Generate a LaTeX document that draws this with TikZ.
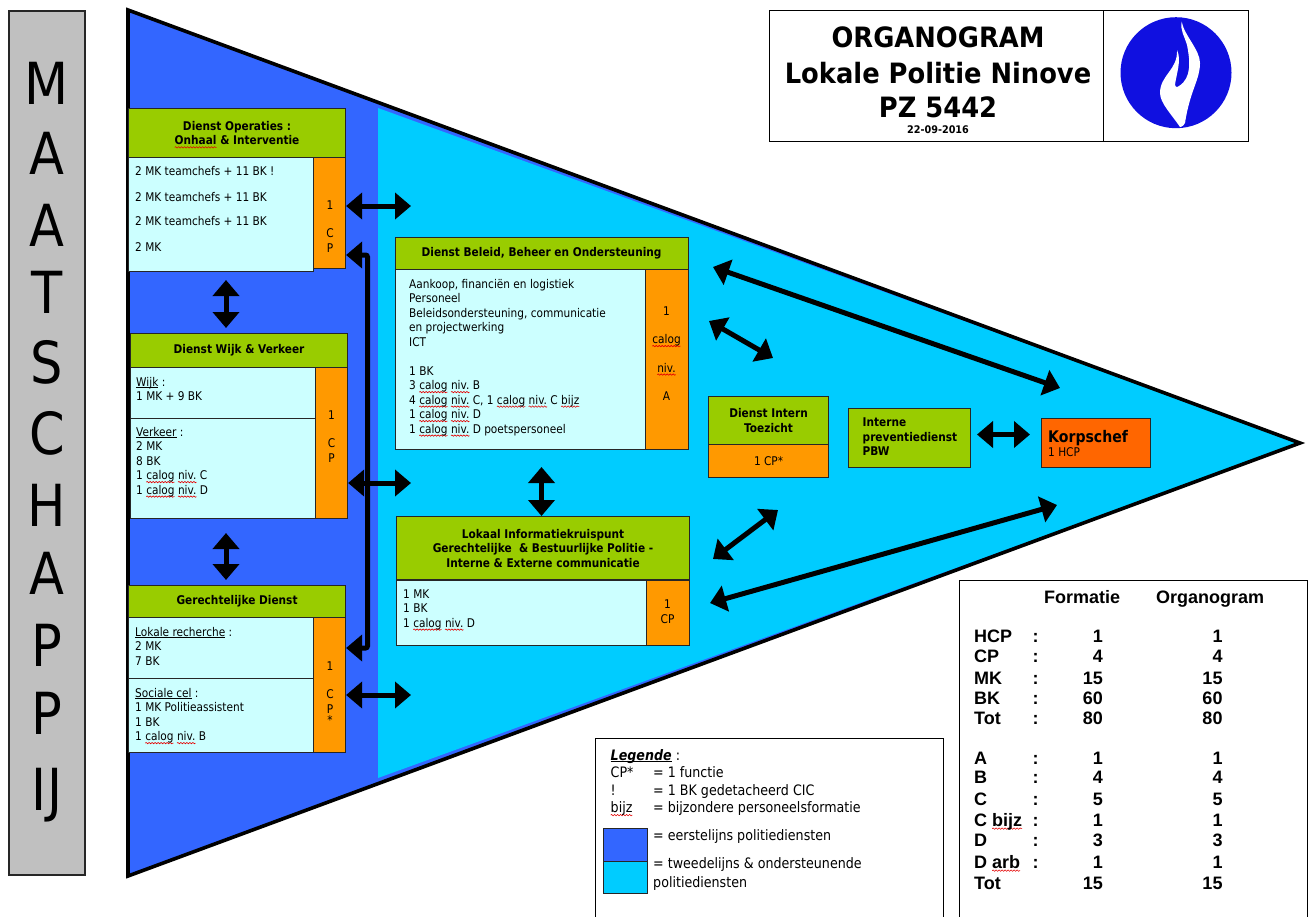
\documentclass[tikz,border=0pt]{standalone}
\usepackage{fontspec}
\setmainfont[FakeStretch=0.88]{DejaVu Sans}
\newfontfamily\ttlfont[FakeStretch=0.92]{DejaVu Sans}
\newfontfamily\arifont{Liberation Sans}
\usetikzlibrary{arrows.meta,decorations.pathmorphing}
\definecolor{dblue}{HTML}{3366FF}
\definecolor{lblue}{HTML}{00CCFF}
\definecolor{hgreen}{HTML}{99CC00}
\definecolor{bcyan}{HTML}{CCFFFF}
\definecolor{oran}{HTML}{FF9900}
\definecolor{korps}{HTML}{FF6600}
\definecolor{grijs}{HTML}{C0C0C0}
\definecolor{logob}{HTML}{1010E0}
\newsavebox\sqbox
\newcommand\sq[1]{\sbox\sqbox{#1}\leavevmode\rlap{\tikz[overlay,baseline=0pt]\draw[red!90!black,line width=.6pt,decorate,decoration={snake,segment length=3pt,amplitude=.7pt}] (0pt,-2.6pt)--(\wd\sqbox,-2.6pt);}\usebox\sqbox}
\newcommand\ul[1]{\underline{\smash{#1}}}
\newcommand\bft{\fontsize{12}{14.5}\selectfont}
\newcommand\hft{\fontsize{12}{14.5}\selectfont\bfseries}
\tikzset{
 bx/.style={draw=black!85,line width=1.1pt,anchor=north west,inner sep=0pt,align=center,text=black},
 hdr/.style={bx,fill=hgreen,font=\hft},
 bodybox/.style={bx,fill=bcyan},
 orbox/.style={bx,fill=oran,font=\bft},
 txt/.style={anchor=base west,inner sep=0pt,align=left,font=\bft},
 ctxt/.style={anchor=base,inner sep=0pt,align=center,font=\bft},
 dbl/.style={line width=5pt,{Triangle[length=16pt,width=26pt]}-{Triangle[length=16pt,width=26pt]}},
 letter/.style={anchor=center,inner sep=0pt,font=\fontsize{58}{60}\selectfont},
 tcell/.style={inner sep=0pt,font=\arifont\bfseries\fontsize{18}{20}\selectfont},
 legt/.style={anchor=base west,inner sep=0pt,font=\fontsize{14.4}{16}\selectfont}
}
\begin{document}
\begin{tikzpicture}[x=1pt,y=-1pt]
\useasboundingbox (0,0) rectangle (1308,916);
% maatschappij
\node[bx,fill=grijs,line width=1.6pt,minimum width=76pt,minimum height=864pt] (maat) at (8,10) {};
\foreach \i/\l/\y in {1/M/83,2/A/153,3/A/225,4/T/292,5/S/362,6/C/433,7/H/505,8/A/573,9/P/645,10/P/713,11/IJ/795}
  \node[letter] (m\i) at (47,\y) {\l};
% triangle
\coordinate (tA) at (128,10); \coordinate (tB) at (128,876); \coordinate (tC) at (1300,443);
\fill[dblue] (tA)--(tC)--(tB)--cycle;
\fill[lblue] (378,108)--(tC)--(378,778)--cycle;
\draw[line width=3.6pt,line join=miter] (tA)--(tC)--(tB)--cycle;
% title
\node[bx,draw=black,minimum width=334pt,minimum height=131pt,line width=1pt] (ttl) at (769,10) {};
\node[bx,draw=black,minimum width=145pt,minimum height=131pt,line width=1pt] (ttlb) at (1103,10) {};
\node[anchor=base,inner sep=0pt,font=\ttlfont\bfseries\fontsize{28}{30}\selectfont] (t1) at (938,47) {ORGANOGRAM};
\node[anchor=base,inner sep=0pt,font=\ttlfont\bfseries\fontsize{28}{30}\selectfont] (t2) at (938,83) {Lokale Politie Ninove};
\node[anchor=base,inner sep=0pt,font=\ttlfont\bfseries\fontsize{28}{30}\selectfont] (t3) at (938,117) {PZ 5442};
\node[anchor=base,inner sep=0pt,font=\ttlfont\bfseries\fontsize{10.5}{12}\selectfont] (t4) at (938,133) {22-09-2016};
\fill[logob] (1176,72.7) circle (55.5);
\fill[white] (1181.7,21.7) .. controls (1184,35) and (1200,50) .. (1200,63)
  .. controls (1200,80) and (1190,90) .. (1185,123) .. controls (1183,127) and (1180,127) .. (1180,127)
  .. controls (1172,115) and (1160,103) .. (1160,93) .. controls (1160,75) and (1178,70) .. (1177,50)
  .. controls (1182,60) and (1176,75) .. (1175,85) .. controls (1176,88) and (1178,87) .. (1179,86)
  .. controls (1192,78) and (1190,60) .. (1187,45) .. controls (1184,35) and (1180,30) .. (1181.7,21.7) -- cycle;
% Operaties
\node[hdr,minimum width=217pt,minimum height=49pt] (oph) at (128,108) {Dienst Operaties :\\\sq{Onhaal} \& Interventie};
\node[bodybox,minimum width=185pt,minimum height=114pt] (opb) at (128,157) {};
\node[orbox,minimum width=32pt,minimum height=111pt] (opc) at (313,157) {};
\foreach \i/\y/\s in {1/175/2 MK teamchefs + 11 BK !,2/201/2 MK teamchefs + 11 BK,3/225.5/2 MK teamchefs + 11 BK,4/251.5/2 MK}
  \node[txt] (opt\i) at (135,\y) {\s};
\node[ctxt] (opn) at (330,252) {1\\[13.5pt]C\\P};
% Wijk
\node[hdr,minimum width=217pt,minimum height=34pt] (wih) at (130,333) {Dienst Wijk \& Verkeer};
\node[bodybox,minimum width=185pt,minimum height=51pt] (wib) at (130,367) {};
\node[bodybox,minimum width=185pt,minimum height=100pt] (vkb) at (130,418) {};
\node[orbox,minimum width=32pt,minimum height=151pt] (wic) at (315,367) {};
\node[txt] (wit) at (136,400.5) {\ul{Wijk} :\\1 MK + 9 BK};
\node[txt] (vkt) at (136,494) {\ul{Verkeer} :\\2 MK\\8 BK\\1 \sq{calog} \sq{niv.} C\\1 \sq{calog} \sq{niv.} D};
\node[ctxt] (win) at (331.5,462) {1\\[13.5pt]C\\P};
% Gerechtelijke
\node[hdr,minimum width=217pt,minimum height=32pt] (geh) at (128,585) {Gerechtelijke Dienst};
\node[bodybox,minimum width=185pt,minimum height=61pt] (geb) at (128,617) {};
\node[bodybox,minimum width=185pt,minimum height=74pt] (soc) at (128,678) {};
\node[orbox,minimum width=32pt,minimum height=135pt] (gec) at (313,617) {};
\node[txt] (get) at (135,665) {\ul{Lokale recherche} :\\2 MK\\7 BK};
\node[txt] (sot) at (135,740.5) {\ul{Sociale cel} :\\1 MK Politieassistent\\1 BK\\1 \sq{calog} \sq{niv.} B};
\node[ctxt] (gen) at (330,724.5) {1\\[13.5pt]C\\P\\[-3pt]*};
% Beleid
\node[hdr,minimum width=293pt,minimum height=32pt] (beh) at (394.5,237) {Dienst Beleid, Beheer en Ondersteuning};
\node[bodybox,minimum width=250pt,minimum height=180pt] (beb) at (394.5,269) {};
\node[orbox,minimum width=43pt,minimum height=180pt] (bec) at (644.5,269) {};
\node[txt] (bet) at (409,433) {Aankoop, financiën en logistiek\\Personeel\\Beleidsondersteuning, communicatie\\en projectwerking\\ICT\\[14.5pt]1 BK\\3 \sq{calog} \sq{niv.} B\\4 \sq{calog} \sq{niv.} C, 1 \sq{calog} \sq{niv.} C \sq{bijz}\\1 \sq{calog} \sq{niv.} D\\1 \sq{calog} \sq{niv.} D poetspersoneel};
\node[ctxt] (ben) at (666.5,400.5) {1\\[14pt]\sq{calog}\\[14pt]\sq{niv.}\\[14pt]A};
% LIK
\node[hdr,minimum width=293pt,minimum height=63pt] (lih) at (396,516) {Lokaal Informatiekruispunt\\Gerechtelijke\ \ \& Bestuurlijke Politie -\\Interne \& Externe communicatie};
\node[bodybox,minimum width=250pt,minimum height=65pt] (lib) at (396,579.5) {};
\node[orbox,minimum width=43pt,minimum height=65pt] (lic) at (646,579.5) {};
\node[txt] (lit) at (403,627) {1 MK\\1 BK\\1 \sq{calog} \sq{niv.} D};
\node[ctxt] (lin) at (667.5,623) {1\\CP};
% Toezicht
\node[hdr,minimum width=120pt,minimum height=48pt] (toh) at (708,396) {Dienst Intern\\Toezicht};
\node[orbox,minimum width=120pt,minimum height=33pt] (toc) at (708,444) {1 CP*};
% Interne
\node[hdr,minimum width=122pt,minimum height=59pt] (inh) at (848,408) {};
\node[txt,font=\hft] (int) at (862.5,455.5) {Interne\\preventiedienst\\PBW};
% Korpschef
\node[bx,fill=korps,minimum width=109pt,minimum height=49pt] (kob) at (1041,418) {};
\node[txt,font=\bfseries\fontsize{16}{18}\selectfont] (kot) at (1048,442) {Korpschef};
\node[txt] (kos) at (1048,456.5) {1 HCP};
% connectors
\coordinate (a1) at (411,206); \draw[dbl] (opc.east |- a1) -- (a1);
\coordinate (a3) at (411,483); \draw[dbl] (wic.east |- a3) -- (a3);
\coordinate (a4) at (411,695); \draw[dbl] (gec.east |- a4) -- (a4);
\coordinate (e1) at (367.5,255); \coordinate (e2) at (367.5,648);
\draw[line width=5pt,rounded corners=2pt,{Triangle[length=16pt,width=26pt]}-{Triangle[length=16pt,width=26pt]}] (opc.east |- e1) -- (e1) -- (e2) -- (gec.east |- e2);
\coordinate (a5) at (226,280); \coordinate (a5b) at (226,328); \draw[dbl] (a5) -- (a5b);
\coordinate (a6) at (226,533); \coordinate (a6b) at (226,580); \draw[dbl] (a6) -- (a6b);
\coordinate (a7) at (541.5,467); \draw[dbl] (a7) -- (a7 |- lih.north);
\coordinate (a8) at (713,267); \coordinate (a8b) at (1060,388); \draw[dbl] (a8) -- (a8b);
\coordinate (a9) at (709,321); \coordinate (a9b) at (773,358); \draw[dbl] (a9) -- (a9b);
\coordinate (a10) at (713,559); \coordinate (a10b) at (778,510); \draw[dbl] (a10) -- (a10b);
\coordinate (a11) at (710,603); \coordinate (a11b) at (1057,505); \draw[dbl] (a11) -- (a11b);
\coordinate (a12) at (977,434.5); \coordinate (a12b) at (1030,434.5); \draw[dbl] (a12) -- (a12b);
% legend
\node[bx,draw=black,fill=white,line width=1pt,minimum width=348pt,minimum height=200pt] (leg) at (595,738) {};
\node[legt] (l0) at (610.5,760) {\ul{\textbf{\textit{Legende}}} :};
\foreach \i/\y/\a/\b in {1/777/CP*/= 1 functie,2/795/!/= 1 BK gedetacheerd CIC,3/812.5/\sq{bijz}/= bijzondere personeelsformatie}{
  \node[legt] (la\i) at (610.5,\y) {\a};
  \node[legt] (lb\i) at (653,\y) {\b};
}
\node[bx,fill=dblue,minimum width=44pt,minimum height=33pt] (sw1) at (603,828) {};
\node[bx,fill=lblue,minimum width=44pt,minimum height=32pt] (sw2) at (603,861) {};
\node[legt] (l4) at (653,840) {= eerstelijns politiediensten};
\node[legt] (l5) at (653,868) {= tweedelijns \& ondersteunende};
\node[legt] (l6) at (653,887) {politiediensten};
% table
\node[bx,draw=black,fill=white,line width=1pt,minimum width=348pt,minimum height=350pt] (tab) at (959,580) {};
\node[tcell,anchor=base] (hf) at (1082,603.5) {Formatie};
\node[tcell,anchor=base] (ho) at (1210,603.5) {Organogram};
\foreach \i/\y/\l/\c/\f in {1/642/HCP/:/1,2/662/CP/:/4,3/684/MK/:/15,4/704/BK/:/60,5/724.5/Tot/:/80,6/764/A/:/1,7/783/B/:/4,8/805/C/:/5,9/826/C \sq{bijz}/:/1,10/846/D/:/3,11/868/D \sq{arb}/:/1,12/889/Tot//15}{
  \node[tcell,anchor=base west] (rl\i) at (974,\y) {\l};
  \node[tcell,anchor=base] (rc\i) at (1035.7,\y) {\c\vphantom{0}};
  \node[tcell,anchor=base east] (rf\i) at (1103,\y) {\f};
  \node[tcell,anchor=base east] (ro\i) at (1222.7,\y) {\f};
}
\end{tikzpicture}
\end{document}
